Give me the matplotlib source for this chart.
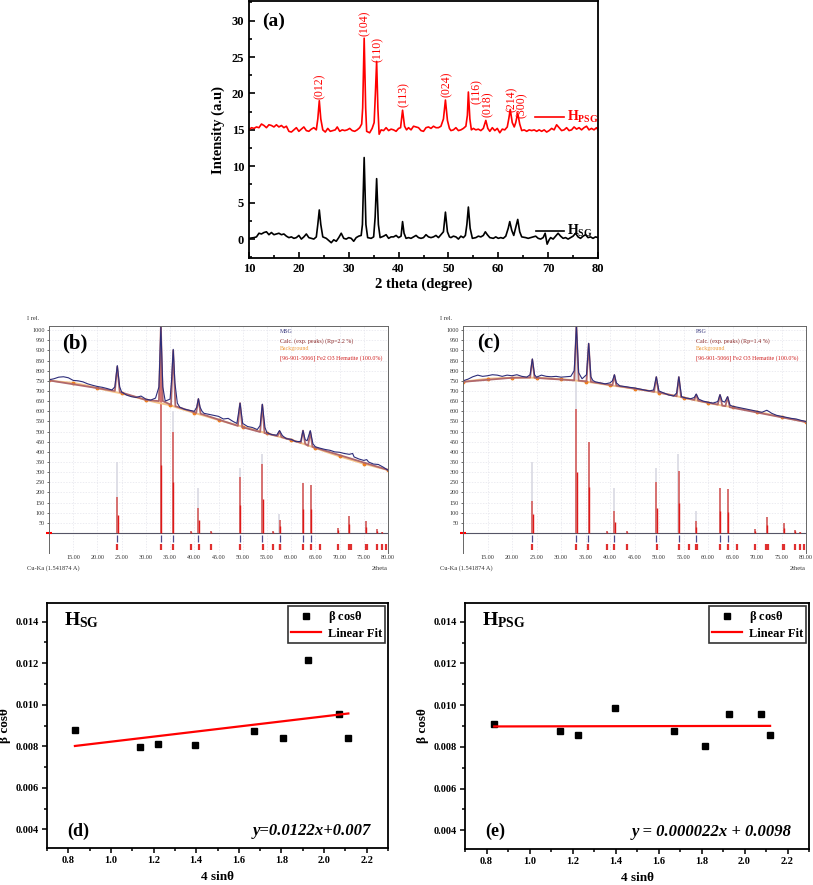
import numpy as np
import matplotlib
matplotlib.use("Agg")
import matplotlib.pyplot as plt
from matplotlib.ticker import MultipleLocator, FormatStrFormatter

plt.rcParams['font.family'] = ['Liberation Serif', 'DejaVu Serif']
plt.rcParams['mathtext.fontset'] = 'custom'
plt.rcParams['mathtext.rm'] = 'Liberation Serif'
plt.rcParams['mathtext.bf'] = 'Liberation Serif:bold'
plt.rcParams['mathtext.it'] = 'Liberation Serif:italic'

# ---------------- (a) XRD patterns: (2theta, intensity) ----------------
xrd_sg = [(10, 0.1), (11, 0.2), (11.5, 0.3), (12, 0.8), (12.5, 0.7), (13, 0.9), (13.5, 1.0), (14, 0.6),
          (14.5, 0.9), (15, 0.6), (15.5, 0.7), (16, 0.8), (16.5, 0.6), (17, 0.7), (17.5, 0.4), (18, 0.2),
          (18.5, 0.3), (19, 0.1), (19.5, 0.2), (20, 0.5), (20.5, 0.0), (21, 0.3), (21.5, 0.7), (22, 0.2),
          (22.5, 0.1), (23, 0.0), (23.5, 0.3), (23.8, 2.0), (24.1, 4.0), (24.4, 2.0), (24.8, 0.3),
          (25.5, 0.1), (26, -0.2), (26.5, -0.5), (27, -0.1), (27.5, -0.3), (28, 0.2), (28.5, 0.8),
          (29, 0.1), (29.5, 0.0), (30, 0.2), (30.5, 0.1), (31, -0.3), (31.5, 0.2), (32, 0.4), (32.5, 0.5),
          (32.75, 2.0), (33.1, 11.2), (33.45, 2.0), (33.8, 0.2), (34.5, 0.1), (35.0, 0.3), (35.3, 3.0),
          (35.6, 8.3), (35.95, 2.0), (36.3, 0.2), (37, 0.4), (37.5, 0.6), (38, 0.1), (38.5, 0.3), (39, 0.3),
          (39.5, 0.5), (40, 0.2), (40.5, 0.4), (40.8, 2.4), (41.1, 0.8), (41.5, 0.1), (42, 0.2), (42.5, 0.1),
          (43, 0.3), (43.5, 0.5), (44, 0.2), (44.5, 0.1), (45, 0.2), (45.5, 0.6), (46, 0.3), (46.5, 0.2),
          (47, 0.3), (47.5, 0.5), (48, 0.2), (48.5, 0.6), (49.0, 1.0), (49.4, 3.7), (49.8, 1.0), (50.2, 0.3),
          (50.5, 0.2), (51, 0.4), (51.5, 0.3), (52, 0.0), (52.5, 0.4), (53, 0.2), (53.4, 0.5), (53.7, 2.0),
          (54.0, 4.4), (54.35, 1.5), (54.8, 0.1), (55.5, 0.2), (56, 0.4), (56.5, 0.3), (57, 0.5), (57.4, 1.0),
          (57.8, 0.6), (58.3, 0.2), (59, 0.1), (59.5, 0.3), (60, 0.1), (60.5, 0.2), (61, 0.1), (61.5, 0.4),
          (62, 1.5), (62.3, 2.4), (62.7, 1.2), (63.1, 0.5), (63.5, 1.6), (63.9, 2.7), (64.3, 1.0), (64.7, 0.3),
          (65.5, 0.2), (66, 0.1), (66.5, 0.2), (67, 0.3), (67.5, 0.4), (68, 0.1), (68.5, 0.0), (69, 0.2),
          (69.4, 0.8), (69.8, -0.7), (70.2, -0.1), (70.5, 0.2), (71, 0.0), (71.5, 0.4), (72, 0.8), (72.5, 0.4),
          (73, 0.1), (73.5, 0.2), (74, 0.0), (74.5, 0.2), (75, 0.4), (75.5, 0.8), (76, 0.3), (76.5, 0.1),
          (77, 0.4), (77.5, 0.6), (78, 0.2), (78.5, 0.3), (79, 0.1), (79.5, 0.3), (80, 0.2)]

xrd_psg = [(10, 15.0), (10.5, 15.3), (11, 15.2), (11.5, 15.4), (12, 15.3), (12.5, 15.8), (13, 15.6),
           (13.5, 15.3), (14, 15.7), (14.5, 15.6), (15, 15.4), (15.5, 15.7), (16, 15.4), (16.5, 15.6),
           (17, 15.3), (17.5, 15.5), (18, 14.8), (18.5, 14.7), (19, 15.0), (19.5, 15.3), (20, 14.8),
           (20.5, 15.1), (21, 15.4), (21.5, 14.9), (22, 14.8), (22.5, 15.1), (23, 15.3), (23.5, 15.0),
           (23.8, 16.5), (24.1, 19.0), (24.4, 16.5), (24.8, 15.0), (25.3, 14.7), (25.8, 15.2), (26.3, 14.8),
           (26.8, 14.9), (27.3, 15.0), (27.7, 15.4), (28.2, 14.8), (28.7, 15.0), (29.2, 14.9), (29.7, 15.0),
           (30.2, 15.2), (30.7, 14.9), (31.2, 14.8), (31.7, 15.0), (32.2, 15.3), (32.6, 15.8), (32.8, 18.0),
           (33.1, 27.6), (33.4, 18.0), (33.6, 14.8), (34.2, 14.6), (34.7, 15.2), (35.1, 16.0), (35.35, 20.0),
           (35.6, 24.4), (35.85, 18.0), (36.1, 14.4), (36.5, 15.0), (37, 14.9), (37.5, 15.3), (38, 14.9),
           (38.5, 15.1), (39, 15.0), (39.5, 14.8), (40, 15.2), (40.4, 15.3), (40.8, 17.7), (41.2, 15.5),
           (41.6, 15.0), (42, 15.3), (42.5, 15.0), (43, 15.5), (43.5, 15.4), (44, 15.3), (44.5, 14.9),
           (45, 14.8), (45.5, 15.3), (46, 15.4), (46.5, 15.2), (47, 15.5), (47.5, 15.3), (48, 15.3),
           (48.5, 15.5), (49.0, 16.5), (49.4, 19.1), (49.8, 16.3), (50.2, 15.2), (50.5, 14.9), (51, 15.0),
           (51.5, 15.3), (52, 14.9), (52.5, 15.0), (53, 15.2), (53.5, 15.5), (53.8, 17.0), (54.0, 20.2),
           (54.3, 16.5), (54.6, 15.0), (55, 15.2), (55.5, 15.0), (56, 15.1), (56.5, 14.9), (57, 15.2),
           (57.5, 16.3), (57.9, 15.2), (58.3, 14.8), (58.8, 15.3), (59.3, 14.9), (59.8, 15.2), (60.3, 14.6),
           (60.8, 15.1), (61.3, 15.0), (61.8, 15.4), (62.1, 16.5), (62.4, 17.8), (62.8, 16.0), (63.2, 15.4),
           (63.5, 16.0), (63.9, 17.3), (64.3, 15.8), (64.7, 14.9), (65.2, 15.0), (65.7, 14.8), (66.2, 15.0),
           (66.7, 14.9), (67.2, 15.0), (67.7, 14.8), (68.2, 15.0), (68.7, 14.8), (69.2, 15.0), (69.7, 14.7),
           (70.2, 14.9), (70.7, 15.2), (71.2, 15.0), (71.7, 15.7), (72.2, 15.3), (72.7, 14.9), (73.2, 15.0),
           (73.7, 15.3), (74.2, 14.9), (74.7, 15.0), (75.2, 15.4), (75.7, 15.1), (76.2, 15.3), (76.7, 15.0),
           (77.2, 15.3), (77.7, 15.5), (78.2, 15.0), (78.7, 15.2), (79.2, 15.0), (79.7, 15.3), (80, 15.0)]

hkl_labels = ['(012)', '(104)', '(110)', '(113)', '(024)', '(116)', '(018)', '(214)', '(300)']
hkl_pos = [24.2, 33.2, 35.9, 41.1, 49.7, 55.7, 57.9, 62.7, 64.8]
hkl_base = [19.2, 27.9, 24.3, 18.1, 19.5, 18.6, 16.7, 17.4, 16.6]

# ---------------- (b), (c) Rietveld-type screens ----------------
obs_b = [(10, 755), (11, 760), (12, 768), (13, 770), (14, 765), (15, 752), (16, 750), (17, 745), (18, 735),
         (19, 728), (20, 722), (21, 718), (22, 712), (23, 705), (23.6, 720), (24.1, 825), (24.6, 720),
         (25, 695), (26, 680), (27, 672), (28, 668), (29, 675), (30, 660), (31, 655), (32, 665), (32.7, 720),
         (33.1, 1015), (33.5, 720), (34, 650), (35, 660), (35.3, 750), (35.65, 905), (36.0, 740), (36.5, 640),
         (37, 620), (38, 610), (39, 605), (40, 600), (40.5, 620), (40.85, 662), (41.2, 620), (41.6, 600),
         (42, 590), (43, 585), (44, 580), (45, 575), (46, 562), (47, 565), (48, 550), (48.8, 540),
         (49.45, 640), (50, 540), (51, 525), (52, 520), (53, 510), (53.6, 530), (54.05, 635), (54.6, 520),
         (55, 495), (56, 485), (57, 482), (57.6, 505), (58.2, 480), (59, 465), (60, 462), (61, 450),
         (62, 452), (62.45, 505), (62.9, 460), (63.3, 455), (63.95, 505), (64.5, 440), (65, 425), (66, 418),
         (67, 412), (68, 408), (69, 400), (70, 398), (71, 392), (72, 388), (72.7, 392), (73, 375), (74, 365),
         (75, 358), (75.6, 362), (76, 350), (77, 340), (78, 338), (79, 325), (80, 310)]
calc_b = [(10, 752), (20, 714), (23.6, 700), (24.1, 820), (24.6, 695), (30, 656), (32.7, 650), (33.1, 1020),
          (33.5, 650), (35.2, 632), (35.65, 900), (36.1, 625), (40.4, 592), (40.85, 660), (41.3, 588),
          (49.0, 528), (49.45, 640), (49.9, 522), (53.6, 498), (54.05, 632), (54.5, 493), (57.2, 478),
          (57.6, 502), (58.0, 473), (62.0, 445), (62.45, 505), (62.9, 440), (63.5, 430), (63.95, 500),
          (64.4, 425), (80, 311)]
bg_x = [10, 12.5, 15, 17.5, 20, 22.5, 25, 27.5, 30, 32.5, 35, 37.5, 40, 42.5, 45, 47.5, 50, 52.5, 55,
        57.5, 60, 62.5, 65, 67.5, 70, 72.5, 75, 77.5, 80]
bg_b = [752, 745, 740, 728, 714, 700, 688, 672, 656, 642, 630, 610, 592, 575, 557, 540, 524, 508, 491,
        475, 459, 440, 419, 398, 378, 360, 342, 326, 311]
# sticks: position, pale height, rose height, red height
sticks_b = [(24.1, 350, 180, 90), (33.15, 1020, 1020, 335), (35.6, 600, 500, 250), (39.3, 0, 10, 5),
            (40.85, 220, 125, 65), (43.5, 0, 10, 5), (49.45, 320, 275, 140), (54.05, 390, 340, 170),
            (56.2, 0, 8, 4), (57.6, 95, 65, 35), (62.45, 0, 245, 120), (64.0, 0, 235, 120),
            (69.6, 0, 25, 15), (72.0, 0, 85, 45), (75.5, 0, 60, 30), (77.7, 0, 20, 10), (78.8, 0, 5, 3)]

obs_c = [(10, 750), (11, 758), (12, 770), (13, 778), (14, 772), (15, 775), (16, 780), (17, 778), (18, 772),
         (19, 778), (20, 775), (21, 780), (22, 772), (23, 768), (23.7, 780), (24.15, 858), (24.6, 780),
         (25, 768), (26, 778), (27, 772), (28, 770), (29, 772), (30, 768), (31, 770), (32, 772), (32.7, 800),
         (33.15, 1020), (33.6, 790), (34.3, 760), (35.2, 780), (35.65, 935), (36.1, 770), (36.5, 752),
         (37, 745), (38, 740), (39, 735), (40, 740), (40.5, 750), (40.9, 780), (41.3, 740), (42, 725),
         (43, 722), (44, 718), (45, 715), (46, 710), (47, 705), (48, 700), (48.9, 705), (49.45, 770),
         (50, 700), (51, 690), (52, 680), (53, 675), (53.6, 690), (54.05, 770), (54.6, 672), (55.5, 665),
         (56.5, 662), (57.2, 668), (57.6, 685), (58.1, 660), (59, 650), (60, 645), (61, 640), (62, 648),
         (62.45, 682), (62.9, 650), (63.4, 645), (64.0, 672), (64.5, 630), (65, 625), (66, 620), (67, 615),
         (68, 610), (69, 605), (70, 600), (71, 595), (72, 605), (72.5, 598), (73, 590), (74, 580), (75, 575),
         (76, 570), (77, 565), (78, 562), (79, 555), (80, 550)]
calc_c = [(10, 745), (20, 765), (23.7, 766), (24.15, 855), (24.6, 765), (32.7, 752), (33.15, 1020),
          (33.6, 751), (35.2, 747), (35.65, 932), (36.1, 745), (40.5, 728), (40.9, 778), (41.3, 726),
          (49.0, 696), (49.45, 768), (49.9, 693), (53.6, 674), (54.05, 768), (54.5, 670), (57.2, 656),
          (57.6, 682), (58.0, 652), (62.0, 633), (62.45, 680), (62.9, 628), (63.55, 625), (64.0, 670),
          (64.45, 620), (80, 547)]
bg_c = [745, 753, 760, 763, 765, 766, 765, 762, 758, 753, 746, 738, 728, 720, 711, 702, 692, 680, 667,
        654, 641, 630, 620, 609, 598, 585, 572, 560, 547]
sticks_c = [(24.15, 350, 160, 95), (33.15, 1020, 610, 300), (35.65, 0, 450, 225), (39.3, 0, 10, 5),
            (40.9, 220, 110, 55), (43.5, 0, 10, 5), (49.45, 320, 250, 125), (54.05, 390, 305, 150),
            (57.6, 110, 60, 30), (62.45, 0, 220, 110), (64.0, 0, 215, 105), (69.6, 0, 20, 10),
            (72.0, 0, 80, 40), (75.5, 0, 50, 25), (77.7, 0, 15, 8), (78.8, 0, 5, 3)]

obs_marks = [24.1, 33.1, 35.6, 40.8, 49.4, 54.0, 57.6, 62.4, 64.0]
ref_marks = [24.1, 33.15, 35.6, 39.3, 40.9, 43.5, 49.5, 54.1, 56.2, 57.6, 57.8, 62.5, 64.0, 66.0, 69.6,
             71.9, 72.1, 72.3, 75.4, 75.6, 77.7, 78.8, 79.5]

# ---------------- (d), (e) Williamson-Hall ----------------
wh_x_sg = [0.831, 1.138, 1.221, 1.394, 1.671, 1.805, 1.926, 2.070, 2.114]
wh_y_sg = [0.00878, 0.00797, 0.00813, 0.00804, 0.00873, 0.00839, 0.01215, 0.00953, 0.00840]
fit_sg = (0.00122, 0.0070)
wh_x_psg = [0.836, 1.141, 1.224, 1.397, 1.673, 1.816, 1.929, 2.075, 2.119]
wh_y_psg = [0.00909, 0.00875, 0.00859, 0.00986, 0.00875, 0.00804, 0.00959, 0.00959, 0.00856]
fit_psg = (0.000022, 0.00896)


W, H = 813, 885
fig = plt.figure(figsize=(W / 100, H / 100), dpi=100)


def box(l, t, r, b):
    return [l / W, 1 - b / H, (r - l) / W, (b - t) / H]


# ---------- (a) ----------
ax = fig.add_axes(box(249, 1, 598, 258))
sg = np.array(xrd_sg)
psg = np.array(xrd_psg)
ax.plot(sg[:, 0], sg[:, 1], color='black', lw=1.2)
ax.plot(psg[:, 0], psg[:, 1], color='red', lw=1.2)
ax.set_xlim(10, 80)
ax.set_ylim(-2.6, 32.7)
ax.xaxis.set_major_locator(MultipleLocator(10))
ax.xaxis.set_minor_locator(MultipleLocator(5))
ax.yaxis.set_major_locator(MultipleLocator(5))
ax.yaxis.set_minor_locator(MultipleLocator(2.5))
ax.tick_params(which='both', direction='in', width=1.2, labelsize=9)
ax.tick_params(which='major', length=4)
ax.tick_params(which='minor', length=2.5)
for lab in ax.get_xticklabels() + ax.get_yticklabels():
    lab.set_fontweight('bold')
for sp in ax.spines.values():
    sp.set_linewidth(1.3)
ax.set_xlabel('2 theta (degree)', fontsize=10.5, fontweight='bold', labelpad=2)
ax.set_ylabel('Intensity (a.u)', fontsize=10.5, fontweight='bold', labelpad=5)
ax.text(12.6, 29.9, '(a)', fontsize=14, fontweight='bold', va='center')
for lab, xp, yb in zip(hkl_labels, hkl_pos, hkl_base):
    ax.text(xp, yb, lab, rotation=90, color='red', fontsize=8.5, ha='center', va='bottom')
ax.plot([67.4, 73.2], [16.8, 16.8], color='red', lw=1.2)
ax.text(73.8, 16.8, r'$\mathbf{H_{PSG}}$', color='red', fontsize=10, va='center')
ax.plot([67.6, 73.2], [1.1, 1.1], color='black', lw=1.2)
ax.text(73.8, 1.1, r'$\mathbf{H_{SG}}$', color='black', fontsize=10, va='center')


# ---------- (b), (c) ----------
def rietveld(rect, obs, calc, bg, sticks, tag, name, rp, ref_x, fig_x0):
    ax = fig.add_axes(box(*rect))
    o = np.array(obs)
    c = np.array(calc)
    ax.set_xlim(10, 80)
    ax.set_ylim(-98, 1020)
    ax.set_yticks(np.arange(50, 1001, 50))
    ax.set_xticks(np.arange(15, 81, 5))
    ax.set_xticklabels(['%.2f' % v for v in np.arange(15, 81, 5)])
    ax.grid(True, color='#e4e4ec', lw=0.5, ls=(0, (2, 2)))
    ax.set_axisbelow(True)
    ax.tick_params(labelsize=4.4, length=1.5, width=0.5, colors='#333333', pad=1.5)
    for sp in ['top', 'right', 'left']:
        ax.spines[sp].set_color('#666666')
        ax.spines[sp].set_linewidth(0.7)
    ax.spines['bottom'].set_visible(False)
    ax.tick_params(axis='x', length=0)
    ax.axhline(0, color='#555566', lw=0.8)
    for xs, hp, hr, hd in sticks:
        if hp:
            ax.vlines(xs - 0.08, 0, hp, color='#d9d9e3', lw=1.2)
        ax.vlines(xs, 0, hr, color='#d77070', lw=1.4)
        ax.vlines(xs + 0.05, 0, hd, color='#e01818', lw=1.0)
    ax.vlines(obs_marks, -8, -45, color='#4b4b8c', lw=0.9)
    ax.vlines(ref_x, -55, -85, color='#e03030', lw=1.6)
    ax.plot([10], [0], marker='_', color='red', ms=5, mew=1.5, clip_on=False)
    ax.plot(bg_x, bg, color='#f7c58a', lw=1.4)
    ax.plot(bg_x[::2], bg[::2], ls='none', marker='o', ms=1.8, color='#f08020')
    ax.plot(c[:, 0], c[:, 1], color='#b0686c', lw=1.3)
    ax.plot(o[:, 0], o[:, 1], color='#2d2d7a', lw=0.8)
    ax.text(0.04, 0.925, tag, transform=ax.transAxes, fontsize=15, fontweight='bold', va='center')
    fs = 4.3
    ax.text(0.68, 0.974, name, transform=ax.transAxes, fontsize=fs, color='#3a3a80', va='center')
    ax.text(0.68, 0.934, 'Calc. (exp. peaks) (Rp=%s %%)' % rp, transform=ax.transAxes, fontsize=fs,
            color='#8b2a2a', va='center')
    ax.text(0.68, 0.899, 'Background', transform=ax.transAxes, fontsize=fs, color='#f0a040', va='center')
    ax.text(0.68, 0.859, '[96-901-5066] Fe2 O3 Hematite (100.0%)', transform=ax.transAxes, fontsize=fs,
            color='#d02020', va='center')
    fig.text(fig_x0 / W, 1 - 318 / H, 'I rel.', fontsize=4.6, va='center', color='#333333')
    fig.text(fig_x0 / W, 1 - 568 / H, 'Cu-Ka (1.541874 A)', fontsize=4.6, va='center', color='#333333')
    fig.text(rect[2] / W, 1 - 568 / H, '2theta', fontsize=4.6, va='center', ha='right', color='#333333')
    return ax


rietveld((49, 326, 388, 553), obs_b, calc_b, bg_b, sticks_b, '(b)', 'MSG', '2.2', ref_marks, 27)
rietveld((463, 326, 806, 553), obs_c, calc_c, bg_c, sticks_c, '(c)', 'PSG', '1.4', ref_marks, 440)


# ---------- (d), (e) ----------
def wh(rect, xs, ys, fit, name, tag, eq):
    ax = fig.add_axes(box(*rect))
    ax.plot(xs, ys, ls='none', marker='s', ms=5, color='black', label=r'$\mathbf{\beta}$ cos$\mathbf{\theta}$')
    xf = np.array([xs[0], xs[-1]])
    ax.plot(xf, fit[0] * xf + fit[1], color='red', lw=1.6, label='Linear Fit')
    ax.set_xlim(0.7, 2.3)
    ax.set_ylim(0.0031, 0.0149)
    ax.xaxis.set_major_locator(MultipleLocator(0.2))
    ax.xaxis.set_minor_locator(MultipleLocator(0.1))
    ax.yaxis.set_major_locator(MultipleLocator(0.002))
    ax.yaxis.set_minor_locator(MultipleLocator(0.001))
    ax.tick_params(which='both', direction='out', width=1.1, labelsize=7.5, pad=2.5)
    ax.tick_params(which='major', length=3.5)
    ax.tick_params(which='minor', length=2)
    ax.yaxis.set_major_formatter(FormatStrFormatter('%.3f'))
    ax.xaxis.set_major_formatter(FormatStrFormatter('%.1f'))
    for lab in ax.get_xticklabels() + ax.get_yticklabels():
        lab.set_fontweight('bold')
    for sp in ax.spines.values():
        sp.set_linewidth(1.3)
    ax.set_xlabel('4 sin\u03b8', fontsize=9.5, fontweight='bold', labelpad=4)
    ax.set_ylabel('\u03b2 cos\u03b8', fontsize=9.5, fontweight='bold')
    ax.yaxis.set_label_coords(-0.105, 0.5)
    leg = ax.legend(loc='upper right', prop={'weight': 'bold', 'size': 9}, frameon=True, fancybox=False,
                    edgecolor='black', borderaxespad=0.25, handlelength=2.4, borderpad=0.25,
                    labelspacing=0.2, handletextpad=0.5)
    leg.get_frame().set_linewidth(1.2)
    ax.text(0.05, 0.93, name, transform=ax.transAxes, fontsize=14, fontweight='bold', va='center')
    ax.text(0.06, 0.07, tag, transform=ax.transAxes, fontsize=13, fontweight='bold', va='center')
    ax.text(0.95, 0.07, eq, transform=ax.transAxes, fontsize=12, fontweight='bold', style='italic',
            va='center', ha='right')
    return ax


wh((47, 603, 388, 848), wh_x_sg, wh_y_sg, fit_sg, r'$\mathbf{H_{SG}}$', '(d)', 'y=0.0122x+0.007')
wh((465, 603, 809, 849), wh_x_psg, wh_y_psg, fit_psg, r'$\mathbf{H_{PSG}}$', '(e)', 'y = 0.000022x + 0.0098')

fig.savefig('out.png', dpi=100)
